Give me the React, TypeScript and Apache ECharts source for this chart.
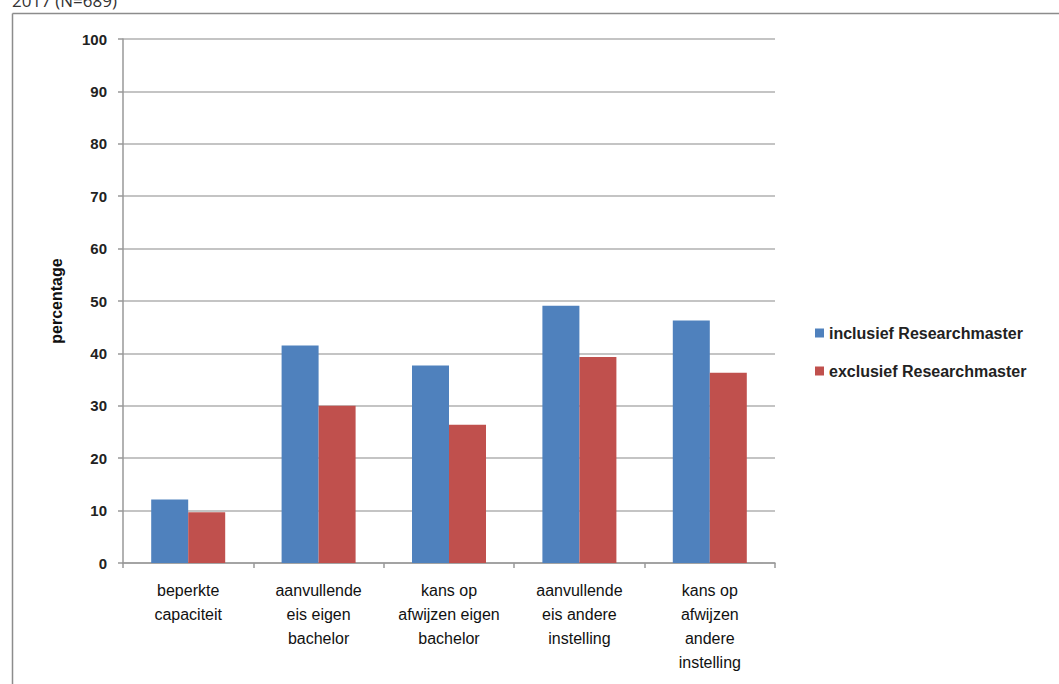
import React, { useEffect, useRef } from "react";
import * as echarts from "echarts";

const categories = [
  "beperkte\ncapaciteit",
  "aanvullende\neis eigen\nbachelor",
  "kans op\nafwijzen eigen\nbachelor",
  "aanvullende\neis andere\ninstelling",
  "kans op\nafwijzen\nandere\ninstelling",
];
const seriesNames = ["inclusief Researchmaster", "exclusief Researchmaster"];
const inclusief = [12.1, 41.5, 37.7, 49.1, 46.3];
const exclusief = [9.7, 30.0, 26.4, 39.3, 36.3];
const yTicks = { min: 0, max: 100, interval: 10 };
const titleText = "2017 (N=689)";

const FONT = "'Liberation Sans Narrow', 'Liberation Sans', Arial, sans-serif";

export default function App() {
  const ref = useRef<HTMLDivElement>(null);
  useEffect(() => {
    document.body.style.margin = "0";
    if (!ref.current) return;
    const chart = echarts.init(ref.current, null, { renderer: "svg" });
    chart.setOption({
      animation: false,
      backgroundColor: "#ffffff",
      textStyle: { fontFamily: FONT },
      graphic: [
        {
          type: "line",
          shape: { x1: 12.5, y1: 13.5, x2: 1059, y2: 13.5 },
          style: { stroke: "#8c8c8c", lineWidth: 1.5 },
        },
        {
          type: "line",
          shape: { x1: 12.5, y1: 13.5, x2: 12.5, y2: 684 },
          style: { stroke: "#8c8c8c", lineWidth: 1.5 },
        },
        {
          type: "text",
          left: 12,
          top: -8,
          style: {
            text: titleText,
            fontSize: 17,
            fontFamily: "'Open Sans', sans-serif",
            fill: "#333",
          },
        },
      ],
      grid: { left: 123, top: 39, right: 284, bottom: 121, containLabel: false },
      legend: {
        orient: "vertical",
        left: 810,
        top: 320,
        itemGap: 22,
        itemWidth: 9,
        itemHeight: 9,
        icon: "rect",
        data: seriesNames,
        textStyle: {
          fontSize: 16,
          fontWeight: "bold",
          color: "#222",
          fontFamily: FONT,
        },
      },
      xAxis: {
        type: "category",
        data: categories,
        axisLine: { lineStyle: { color: "#999", width: 1.5 } },
        axisTick: { show: true, length: 5, lineStyle: { color: "#999", width: 1.5 } },
        axisLabel: {
          interval: 0,
          margin: 15,
          fontSize: 16,
          lineHeight: 24,
          color: "#111",
          fontFamily: FONT,
        },
      },
      yAxis: {
        type: "value",
        min: yTicks.min,
        max: yTicks.max,
        interval: yTicks.interval,
        name: "percentage",
        nameLocation: "middle",
        nameRotate: 90,
        nameGap: 59,
        nameTextStyle: { fontSize: 16, fontWeight: "bold", color: "#111", fontFamily: FONT },
        axisLine: { show: true, lineStyle: { color: "#999", width: 1.5 } },
        axisTick: { show: true, length: 5, lineStyle: { color: "#999", width: 1.5 } },
        axisLabel: {
          margin: 16,
          fontSize: 15,
          fontWeight: "bold",
          color: "#222",
          fontFamily: FONT,
        },
        splitLine: { lineStyle: { color: "#c4c4c4", width: 2 } },
      },
      series: [
        {
          name: seriesNames[0],
          type: "bar",
          data: inclusief,
          barWidth: 37,
          barGap: "0%",
          itemStyle: { color: "#4F81BD" },
        },
        {
          name: seriesNames[1],
          type: "bar",
          data: exclusief,
          barWidth: 37,
          barGap: "0%",
          itemStyle: { color: "#C0504D" },
        },
      ],
    });
    return () => chart.dispose();
  }, []);
  return (
    <div
      ref={ref}
      style={{ position: "fixed", left: 0, top: 0, width: 1059, height: 684 }}
    />
  );
}
